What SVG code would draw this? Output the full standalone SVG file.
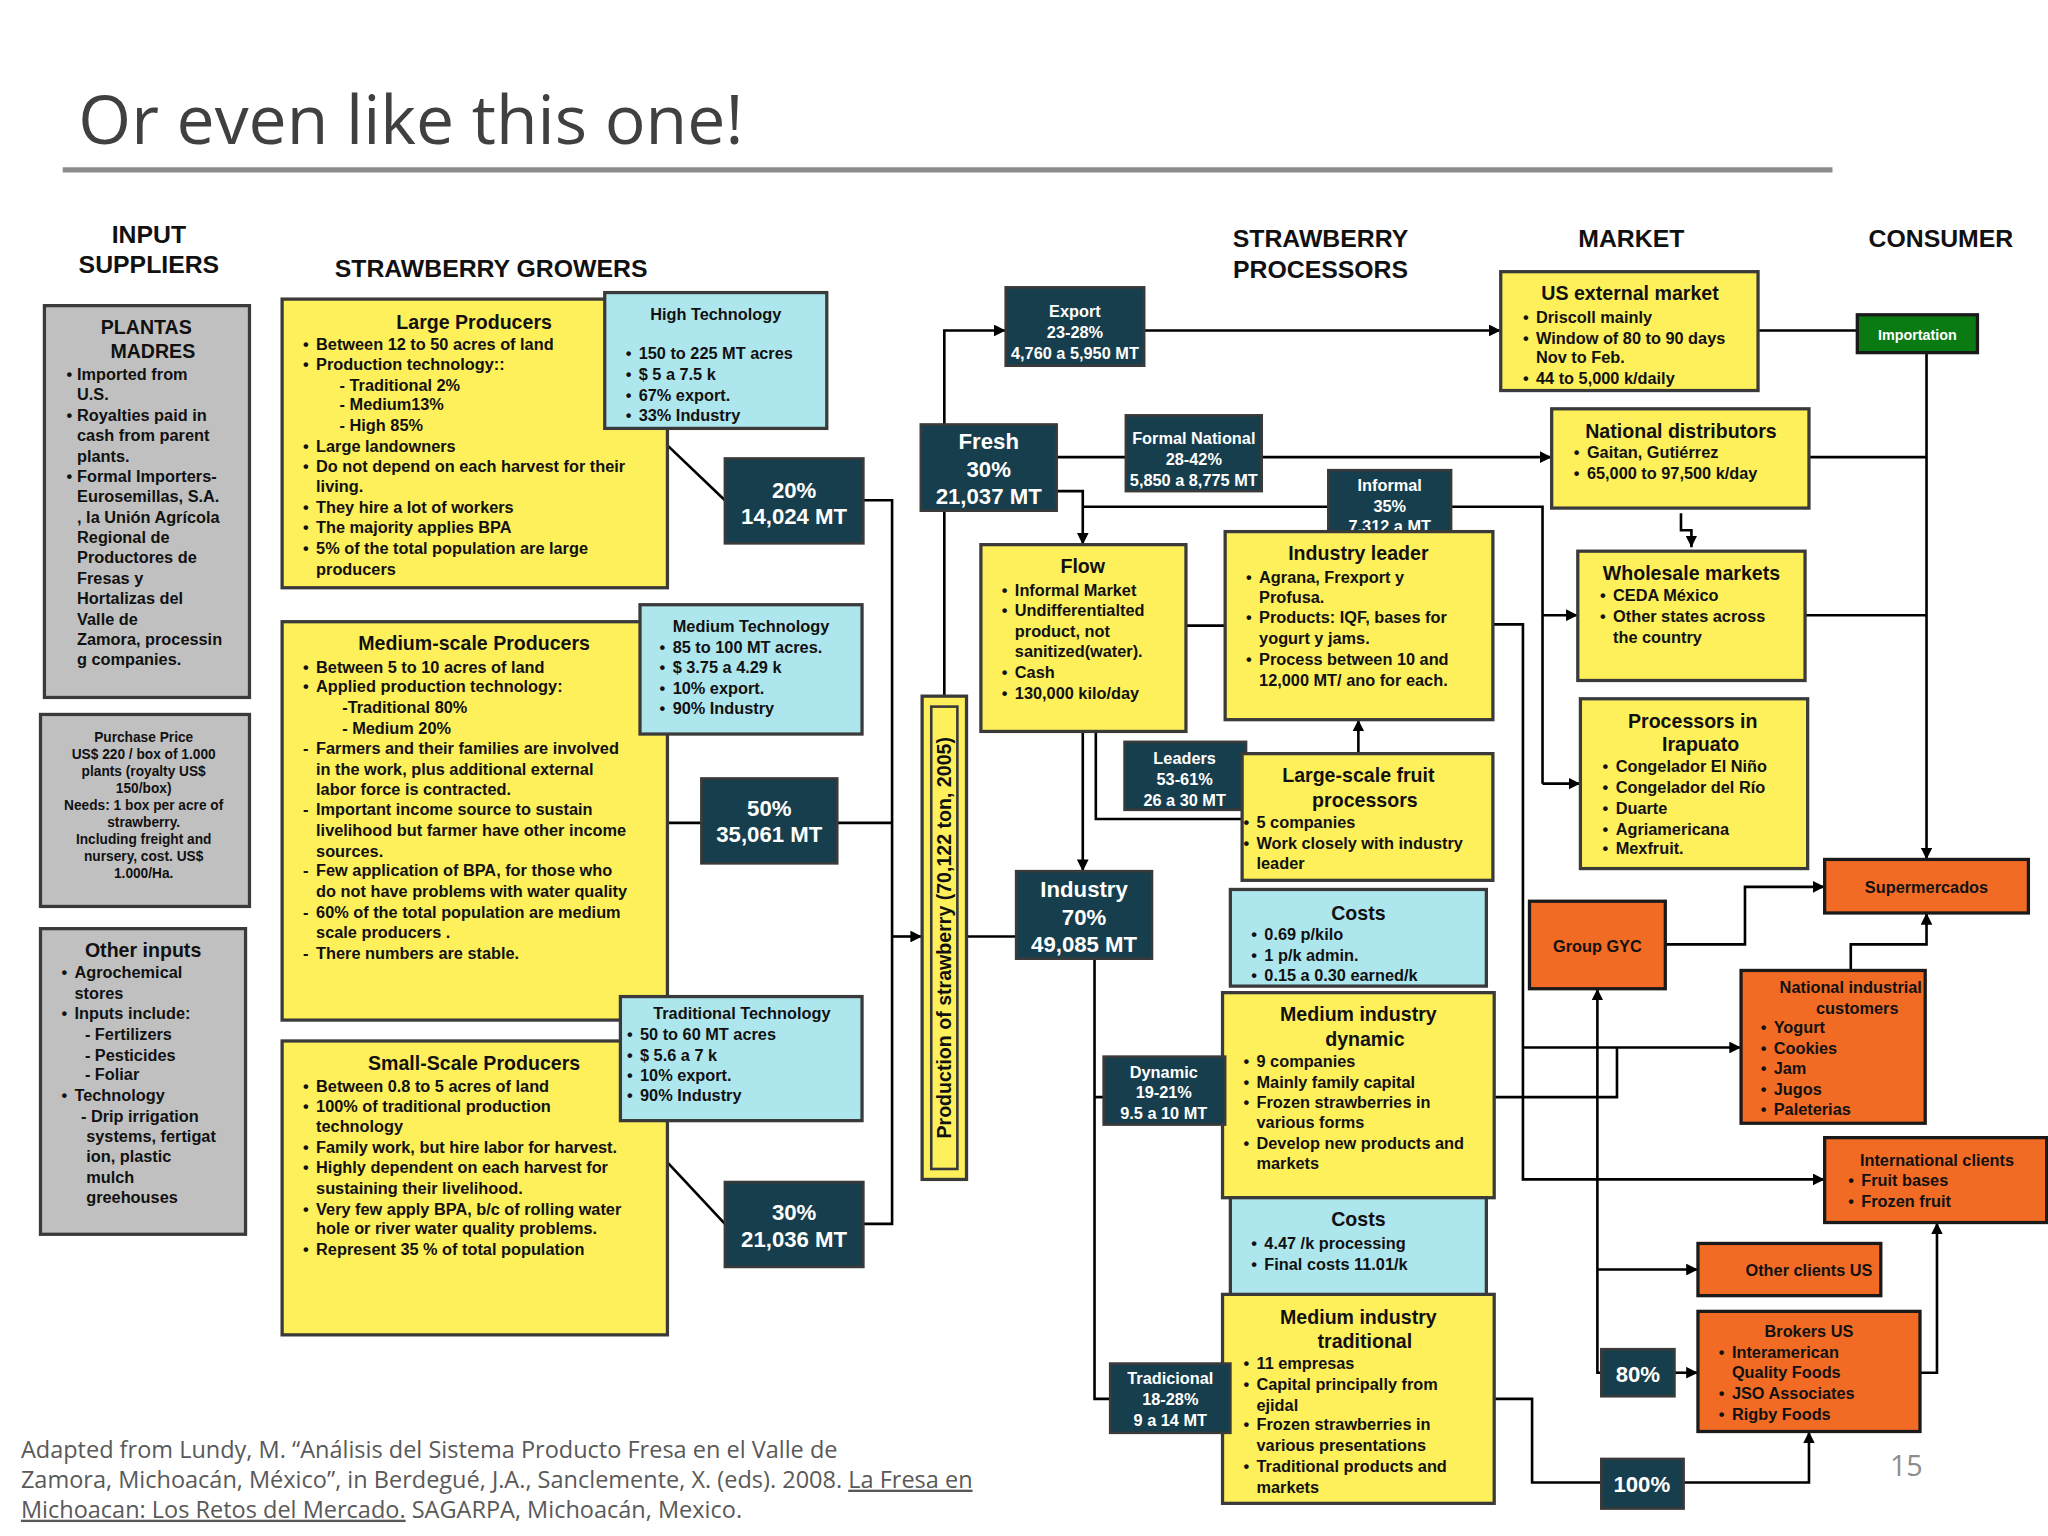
<svg xmlns="http://www.w3.org/2000/svg" width="2048" height="1536" viewBox="0 0 2048 1536">
<defs>
<marker id="ar" viewBox="0 0 10 10" refX="10" refY="5" markerWidth="9" markerHeight="9" markerUnits="userSpaceOnUse" orient="auto"><path d="M0,0 L10,5 L0,10 z" fill="#000"/></marker>
<style>
text{font-family:"Liberation Sans",Arial,sans-serif;font-weight:bold;fill:#111}
.b{font-size:12.5px}
.s{font-size:10.5px}
.t{font-size:15px}
.c{text-anchor:middle}
.w{fill:#fff}
.h{font-size:19px}
.big{font-size:17px}
.y{fill:#fef05a;stroke:#3a3a3a;stroke-width:2.5}
.cy{fill:#aee6ee;stroke:#3a3a3a;stroke-width:2.5}
.d{fill:#173e4c;stroke:#3a3a3a;stroke-width:2}
.g{fill:#c0c0c0;stroke:#3a3a3a;stroke-width:2.5}
.o{fill:#f26b25;stroke:#1a1a1a;stroke-width:2.5}
.gr{fill:#0a7a12;stroke:#1a1a1a;stroke-width:2.5}
#conn path{fill:none;stroke:#000;stroke-width:2}
.a{marker-end:url(#ar)}
.f{font-family:"Open Sans","Liberation Sans",sans-serif;font-weight:normal;fill:#595959}
</style>
</defs>
<rect width="2048" height="1536" fill="#fff"/>
<g transform="scale(1.30612)">
<text x="60" y="110" class="f" style="font-size:52px;fill:#404040">Or even like this one!</text>
<line x1="48" y1="130" x2="1403" y2="130" stroke="#8c8c8c" stroke-width="4"/>

<g id="headers">
<text class="h c" x="114" y="186">INPUT</text><text class="h c" x="114" y="209">SUPPLIERS</text>
<text class="h c" x="376" y="212">STRAWBERRY GROWERS</text>
<text class="h c" x="1011" y="189">STRAWBERRY</text><text class="h c" x="1011" y="213">PROCESSORS</text>
<text class="h c" x="1249" y="189">MARKET</text>
<text class="h c" x="1486" y="189">CONSUMER</text>
</g>

<g id="conn">
<path d="M511,341 L555,383"/>
<path d="M511,630 L537,630"/>
<path d="M511,890 L555,937"/>
<path d="M661,383 H683 V937 H661"/>
<path d="M641,630 H683"/>
<path class="a" d="M683,717 H706"/>
<path class="a" d="M723,533 V253 H770"/>
<path class="a" d="M876,253 H1149"/>
<path class="a" d="M809,350 H1188"/>
<path class="a" d="M809,376 H829 V417"/>
<path d="M829,388 H1181 V600"/>
<path class="a" d="M1181,471 H1208"/>
<path class="a" d="M1181,600 H1210"/>
<path d="M908,479 H938"/>
<path class="a" d="M829,560 V667"/>
<path d="M839,560 V627 H951"/>
<path d="M740,717 H778"/>
<path d="M838,734 V1071 H850 M838,840 H845"/>
<path class="a" d="M1040,577 V551"/>
<path class="a" d="M1143,478 H1166 V903 H1397"/>
<path class="a" d="M1166,802 H1333"/>
<path d="M1144,840 H1238 V802"/>
<path class="a" d="M1226,1051 H1223 V757"/>
<path class="a" d="M1223,972 H1300"/>
<path class="a" d="M1282,1051 H1300"/>
<path d="M1144,1071 H1173 V1135 H1226"/>
<path class="a" d="M1289,1135 H1385 V1096"/>
<path class="a" d="M1470,1051 H1483 V936"/>
<path class="a" d="M1275,723 H1336 V679 H1397"/>
<path class="a" d="M1417,743 V723 H1475 V699"/>
<path d="M1346,253 H1422"/>
<path class="a" d="M1475,270 V658"/>
<path d="M1385,350 H1475 M1382,471 H1475"/>
<path class="a" d="M1287,393 V406 H1295 V419"/>
</g>

<g id="plantas"><rect class="g" x="34" y="234" width="157" height="300"/>
<text class="t c" x="112" y="256">PLANTAS</text><text class="t c" x="117" y="274">MADRES</text>
<text class="b" x="51" y="291">•</text><text class="b" x="51" y="322">•</text><text class="b" x="51" y="369">•</text>
<text class="b"><tspan x="59" y="291">Imported from</tspan><tspan x="59" y="306.6">U.S.</tspan><tspan x="59" y="322.2">Royalties paid in</tspan><tspan x="59" y="337.8">cash from parent</tspan><tspan x="59" y="353.4">plants.</tspan><tspan x="59" y="369">Formal Importers-</tspan><tspan x="59" y="384.6">Eurosemillas, S.A.</tspan><tspan x="59" y="400.2">, la Unión Agrícola</tspan><tspan x="59" y="415.8">Regional de</tspan><tspan x="59" y="431.4">Productores de</tspan><tspan x="59" y="447">Fresas y</tspan><tspan x="59" y="462.6">Hortalizas del</tspan><tspan x="59" y="478.2">Valle de</tspan><tspan x="59" y="493.8">Zamora, processin</tspan><tspan x="59" y="509.4">g companies.</tspan></text></g>

<g id="purchase"><rect class="g" x="31" y="547" width="160" height="147"/>
<text class="s c"><tspan x="110" y="568">Purchase Price</tspan><tspan x="110" y="581">US$ 220 / box of 1.000</tspan><tspan x="110" y="594">plants (royalty US$</tspan><tspan x="110" y="607">150/box)</tspan><tspan x="110" y="620">Needs: 1 box per acre of</tspan><tspan x="110" y="633">strawberry.</tspan><tspan x="110" y="646">Including freight and</tspan><tspan x="110" y="659">nursery, cost. US$</tspan><tspan x="110" y="672">1.000/Ha.</tspan></text></g>

<g id="other"><rect class="g" x="31" y="711" width="157" height="234"/>
<text class="t" x="65" y="733">Other inputs</text>
<text class="b"><tspan x="47" y="749">•</tspan><tspan x="47" y="780">•</tspan><tspan x="47" y="843">•</tspan></text>
<text class="b"><tspan x="57" y="749">Agrochemical</tspan><tspan x="57" y="765">stores</tspan><tspan x="57" y="780">Inputs include:</tspan><tspan x="65" y="796">- Fertilizers</tspan><tspan x="65" y="812">- Pesticides</tspan><tspan x="65" y="827">- Foliar</tspan><tspan x="57" y="843">Technology</tspan><tspan x="62" y="859">- Drip irrigation</tspan><tspan x="66" y="874">systems, fertigat</tspan><tspan x="66" y="890">ion, plastic</tspan><tspan x="66" y="906">mulch</tspan><tspan x="66" y="921">greehouses</tspan></text></g>

<g id="large"><rect class="y" x="216" y="229" width="295" height="221"/>
<text class="t c" x="363" y="252">Large Producers</text>
<text class="b"><tspan x="232" y="268">•</tspan><tspan x="232" y="283">•</tspan><tspan x="232" y="346">•</tspan><tspan x="232" y="361">•</tspan><tspan x="232" y="393">•</tspan><tspan x="232" y="408">•</tspan><tspan x="232" y="424">•</tspan></text>
<text class="b"><tspan x="242" y="268">Between 12 to 50 acres of land</tspan><tspan x="242" y="283">Production technology::</tspan><tspan x="260" y="299">- Traditional 2%</tspan><tspan x="260" y="314">- Medium13%</tspan><tspan x="260" y="330">- High 85%</tspan><tspan x="242" y="346">Large landowners</tspan><tspan x="242" y="361">Do not depend on each harvest for their</tspan><tspan x="242" y="377">living.</tspan><tspan x="242" y="393">They hire a lot of workers</tspan><tspan x="242" y="408">The majority applies BPA</tspan><tspan x="242" y="424">5% of the total population are large</tspan><tspan x="242" y="440">producers</tspan></text></g>

<g id="medium"><rect class="y" x="216" y="476" width="295" height="305"/>
<text class="t c" x="363" y="498">Medium-scale Producers</text>
<text class="b"><tspan x="232" y="515">•</tspan><tspan x="232" y="530">•</tspan><tspan x="232" y="577">-</tspan><tspan x="232" y="624">-</tspan><tspan x="232" y="671">-</tspan><tspan x="232" y="703">-</tspan><tspan x="232" y="734">-</tspan></text>
<text class="b"><tspan x="242" y="515">Between 5 to 10 acres of land</tspan><tspan x="242" y="530">Applied production technology:</tspan><tspan x="262" y="546">-Traditional 80%</tspan><tspan x="262" y="562">- Medium 20%</tspan><tspan x="242" y="577">Farmers and their families are involved</tspan><tspan x="242" y="593">in the work, plus additional external</tspan><tspan x="242" y="609">labor force is contracted.</tspan><tspan x="242" y="624">Important income source to sustain</tspan><tspan x="242" y="640">livelihood but farmer have other income</tspan><tspan x="242" y="656">sources.</tspan><tspan x="242" y="671">Few application of BPA, for those who</tspan><tspan x="242" y="687">do not have problems with water quality</tspan><tspan x="242" y="703">60% of the total population are medium</tspan><tspan x="242" y="718">scale producers .</tspan><tspan x="242" y="734">There numbers are stable.</tspan></text></g>

<g id="small"><rect class="y" x="216" y="797" width="295" height="225"/>
<text class="t c" x="363" y="819">Small-Scale Producers</text>
<text class="b"><tspan x="232" y="836">•</tspan><tspan x="232" y="851">•</tspan><tspan x="232" y="883">•</tspan><tspan x="232" y="898">•</tspan><tspan x="232" y="930">•</tspan><tspan x="232" y="961">•</tspan></text>
<text class="b"><tspan x="242" y="836">Between 0.8 to 5 acres of land</tspan><tspan x="242" y="851">100% of traditional production</tspan><tspan x="242" y="867">technology</tspan><tspan x="242" y="883">Family work, but hire labor for harvest.</tspan><tspan x="242" y="898">Highly dependent on each harvest for</tspan><tspan x="242" y="914">sustaining their livelihood.</tspan><tspan x="242" y="930">Very few apply BPA, b/c of rolling water</tspan><tspan x="242" y="945">hole or river water quality problems.</tspan><tspan x="242" y="961">Represent 35 % of total population</tspan></text></g>

<g id="hightech"><rect class="cy" x="463" y="224" width="170" height="104"/>
<text class="b c" x="548" y="245">High Technology</text>
<text class="b"><tspan x="479" y="275">•</tspan><tspan x="479" y="291">•</tspan><tspan x="479" y="307">•</tspan><tspan x="479" y="322">•</tspan></text>
<text class="b"><tspan x="489" y="275">150 to 225 MT acres</tspan><tspan x="489" y="291">$ 5 a 7.5 k</tspan><tspan x="489" y="307">67% export.</tspan><tspan x="489" y="322">33% Industry</tspan></text></g>

<g id="medtech"><rect class="cy" x="490" y="463" width="170" height="99"/>
<text class="b c" x="575" y="484">Medium Technology</text>
<text class="b"><tspan x="505" y="500">•</tspan><tspan x="505" y="515">•</tspan><tspan x="505" y="531">•</tspan><tspan x="505" y="547">•</tspan></text>
<text class="b"><tspan x="515" y="500">85 to 100 MT acres.</tspan><tspan x="515" y="515">$ 3.75 a 4.29 k</tspan><tspan x="515" y="531">10% export.</tspan><tspan x="515" y="547">90% Industry</tspan></text></g>

<g id="tradtech"><rect class="cy" x="475" y="763" width="185" height="95"/>
<text class="b c" x="568" y="780">Traditional Technology</text>
<text class="b"><tspan x="480" y="796">•</tspan><tspan x="480" y="812">•</tspan><tspan x="480" y="828">•</tspan><tspan x="480" y="843">•</tspan></text>
<text class="b"><tspan x="490" y="796">50 to 60 MT acres</tspan><tspan x="490" y="812">$ 5.6 a 7 k</tspan><tspan x="490" y="828">10% export.</tspan><tspan x="490" y="843">90% Industry</tspan></text></g>

<g id="p20"><rect class="d" x="555" y="351" width="106" height="65"/><text class="big c w"><tspan x="608" y="381">20%</tspan><tspan x="608" y="401">14,024 MT</tspan></text></g>
<g id="p50"><rect class="d" x="537" y="596" width="104" height="65"/><text class="big c w"><tspan x="589" y="625">50%</tspan><tspan x="589" y="645">35,061 MT</tspan></text></g>
<g id="p30"><rect class="d" x="555" y="905" width="106" height="65"/><text class="big c w"><tspan x="608" y="934">30%</tspan><tspan x="608" y="955">21,036 MT</tspan></text></g>

<g id="bar"><rect class="y" x="706" y="533" width="34" height="370"/><rect x="713" y="541" width="20" height="354" fill="none" stroke="#3a3a3a" stroke-width="2"/>
<text class="t c" transform="translate(728,718) rotate(-90)" x="0" y="0">Production of strawberry  (70,122 ton, 2005)</text></g>

<g id="export"><rect class="d" x="770" y="220" width="106" height="60"/><text class="b c w"><tspan x="823" y="243">Export</tspan><tspan x="823" y="259">23-28%</tspan><tspan x="823" y="275">4,760 a 5,950 MT</tspan></text></g>
<g id="fresh"><rect class="d" x="705" y="325" width="104" height="66"/><text class="big c w"><tspan x="757" y="344">Fresh</tspan><tspan x="757" y="365">30%</tspan><tspan x="757" y="386">21,037 MT</tspan></text></g>
<g id="formal"><rect class="d" x="862" y="318" width="104" height="58"/><text class="b c w"><tspan x="914" y="340">Formal National</tspan><tspan x="914" y="356">28-42%</tspan><tspan x="914" y="372">5,850 a 8,775 MT</tspan></text></g>
<g id="informal"><rect class="d" x="1017" y="360" width="94" height="50"/><text class="b c w"><tspan x="1064" y="376">Informal</tspan><tspan x="1064" y="392">35%</tspan><tspan x="1064" y="407">7,312 a MT</tspan></text></g>

<g id="flow"><rect class="y" x="751" y="417" width="157" height="143"/>
<text class="t c" x="829" y="439">Flow</text>
<text class="b"><tspan x="767" y="456">•</tspan><tspan x="767" y="472">•</tspan><tspan x="767" y="519">•</tspan><tspan x="767" y="535">•</tspan></text>
<text class="b"><tspan x="777" y="456">Informal Market</tspan><tspan x="777" y="472">Undifferentialted</tspan><tspan x="777" y="488">product, not</tspan><tspan x="777" y="503">sanitized(water).</tspan><tspan x="777" y="519">Cash</tspan><tspan x="777" y="535">130,000 kilo/day</tspan></text></g>

<g id="leader"><rect class="y" x="938" y="407" width="205" height="144"/>
<text class="t c" x="1040" y="429">Industry leader</text>
<text class="b"><tspan x="954" y="446">•</tspan><tspan x="954" y="477">•</tspan><tspan x="954" y="509">•</tspan></text>
<text class="b"><tspan x="964" y="446">Agrana, Frexport y</tspan><tspan x="964" y="462">Profusa.</tspan><tspan x="964" y="477">Products: IQF, bases for</tspan><tspan x="964" y="493">yogurt y jams.</tspan><tspan x="964" y="509">Process between 10 and</tspan><tspan x="964" y="525">12,000 MT/ ano for each.</tspan></text></g>

<g id="leaders"><rect class="d" x="861" y="568" width="93" height="52"/><text class="b c w"><tspan x="907" y="585">Leaders</tspan><tspan x="907" y="601">53-61%</tspan><tspan x="907" y="617">26 a 30 MT</tspan></text></g>

<g id="largescale"><rect class="y" x="951" y="577" width="192" height="97"/>
<text class="t c"><tspan x="1040" y="599">Large-scale fruit</tspan><tspan x="1045" y="618">processors</tspan></text>
<text class="b"><tspan x="952" y="634">•</tspan><tspan x="952" y="650">•</tspan></text>
<text class="b"><tspan x="962" y="634">5 companies</tspan><tspan x="962" y="650">Work closely with industry</tspan><tspan x="962" y="665">leader</tspan></text></g>

<g id="industry"><rect class="d" x="778" y="667" width="104" height="67"/><text class="big c w"><tspan x="830" y="687">Industry</tspan><tspan x="830" y="708">70%</tspan><tspan x="830" y="729">49,085 MT</tspan></text></g>

<g id="costs1"><rect class="cy" x="942" y="681" width="196" height="74"/>
<text class="t c" x="1040" y="704">Costs</text>
<text class="b"><tspan x="958" y="720">•</tspan><tspan x="958" y="736">•</tspan><tspan x="958" y="751">•</tspan></text>
<text class="b"><tspan x="968" y="720">0.69 p/kilo</tspan><tspan x="968" y="736">1 p/k admin.</tspan><tspan x="968" y="751">0.15 a 0.30 earned/k</tspan></text></g>

<g id="dyn"><rect class="y" x="936" y="760" width="208" height="157"/>
<text class="t c"><tspan x="1040" y="782">Medium industry</tspan><tspan x="1045" y="801">dynamic</tspan></text>
<text class="b"><tspan x="952" y="817">•</tspan><tspan x="952" y="833">•</tspan><tspan x="952" y="848">•</tspan><tspan x="952" y="880">•</tspan></text>
<text class="b"><tspan x="962" y="817">9 companies</tspan><tspan x="962" y="833">Mainly family capital</tspan><tspan x="962" y="848">Frozen strawberries in</tspan><tspan x="962" y="864">various forms</tspan><tspan x="962" y="880">Develop new products and</tspan><tspan x="962" y="895">markets</tspan></text></g>

<g id="dynamic"><rect class="d" x="845" y="809" width="93" height="52"/><text class="b c w"><tspan x="891" y="825">Dynamic</tspan><tspan x="891" y="841">19-21%</tspan><tspan x="891" y="857">9.5 a 10 MT</tspan></text></g>

<g id="costs2"><rect class="cy" x="942" y="917" width="196" height="77"/>
<text class="t c" x="1040" y="939">Costs</text>
<text class="b"><tspan x="958" y="956">•</tspan><tspan x="958" y="972">•</tspan></text>
<text class="b"><tspan x="968" y="956">4.47 /k processing</tspan><tspan x="968" y="972">Final costs 11.01/k</tspan></text></g>

<g id="trad"><rect class="y" x="936" y="991" width="208" height="160"/>
<text class="t c"><tspan x="1040" y="1014">Medium industry</tspan><tspan x="1045" y="1032">traditional</tspan></text>
<text class="b"><tspan x="952" y="1048">•</tspan><tspan x="952" y="1064">•</tspan><tspan x="952" y="1095">•</tspan><tspan x="952" y="1127">•</tspan></text>
<text class="b"><tspan x="962" y="1048">11 empresas</tspan><tspan x="962" y="1064">Capital principally from</tspan><tspan x="962" y="1080">ejidal</tspan><tspan x="962" y="1095">Frozen strawberries in</tspan><tspan x="962" y="1111">various presentations</tspan><tspan x="962" y="1127">Traditional products and</tspan><tspan x="962" y="1143">markets</tspan></text></g>

<g id="tradicional"><rect class="d" x="850" y="1044" width="92" height="53"/><text class="b c w"><tspan x="896" y="1060">Tradicional</tspan><tspan x="896" y="1076">18-28%</tspan><tspan x="896" y="1092">9 a 14 MT</tspan></text></g>

<g id="usext"><rect class="y" x="1149" y="208" width="197" height="91"/>
<text class="t c" x="1248" y="230">US external market</text>
<text class="b"><tspan x="1166" y="247">•</tspan><tspan x="1166" y="263">•</tspan><tspan x="1166" y="294">•</tspan></text>
<text class="b"><tspan x="1176" y="247">Driscoll mainly</tspan><tspan x="1176" y="263">Window of 80 to 90 days</tspan><tspan x="1176" y="278">Nov to Feb.</tspan><tspan x="1176" y="294">44 to 5,000 k/daily</tspan></text></g>

<g id="natdist"><rect class="y" x="1188" y="313" width="197" height="76"/>
<text class="t c" x="1287" y="335">National distributors</text>
<text class="b"><tspan x="1205" y="351">•</tspan><tspan x="1205" y="367">•</tspan></text>
<text class="b"><tspan x="1215" y="351">Gaitan, Gutiérrez</tspan><tspan x="1215" y="367">65,000 to 97,500 k/day</tspan></text></g>

<g id="wholesale"><rect class="y" x="1208" y="422" width="174" height="99"/>
<text class="t c" x="1295" y="444">Wholesale markets</text>
<text class="b"><tspan x="1225" y="460">•</tspan><tspan x="1225" y="476">•</tspan></text>
<text class="b"><tspan x="1235" y="460">CEDA México</tspan><tspan x="1235" y="476">Other states across</tspan><tspan x="1235" y="492">the country</tspan></text></g>

<g id="irapuato"><rect class="y" x="1210" y="535" width="174" height="130"/>
<text class="t c"><tspan x="1296" y="557">Processors in</tspan><tspan x="1302" y="575">Irapuato</tspan></text>
<text class="b"><tspan x="1227" y="591">•</tspan><tspan x="1227" y="607">•</tspan><tspan x="1227" y="623">•</tspan><tspan x="1227" y="639">•</tspan><tspan x="1227" y="654">•</tspan></text>
<text class="b"><tspan x="1237" y="591">Congelador El Niño</tspan><tspan x="1237" y="607">Congelador del Río</tspan><tspan x="1237" y="623">Duarte</tspan><tspan x="1237" y="639">Agriamericana</tspan><tspan x="1237" y="654">Mexfruit.</tspan></text></g>

<g id="importation"><rect class="gr" x="1422" y="241" width="92" height="29"/><text class="c w" style="font-size:11px" x="1468" y="260">Importation</text></g>
<g id="super"><rect class="o" x="1397" y="658" width="156" height="41"/><text class="b c" x="1475" y="684">Supermercados</text></g>
<g id="gyc"><rect class="o" x="1171" y="690" width="104" height="67"/><text class="b c" x="1223" y="729">Group GYC</text></g>

<g id="nic"><rect class="o" x="1333" y="743" width="141" height="117"/>
<text class="b c"><tspan x="1417" y="760">National industrial</tspan><tspan x="1422" y="776">customers</tspan></text>
<text class="b"><tspan x="1348" y="791">•</tspan><tspan x="1348" y="807">•</tspan><tspan x="1348" y="822">•</tspan><tspan x="1348" y="838">•</tspan><tspan x="1348" y="854">•</tspan></text>
<text class="b"><tspan x="1358" y="791">Yogurt</tspan><tspan x="1358" y="807">Cookies</tspan><tspan x="1358" y="822">Jam</tspan><tspan x="1358" y="838">Jugos</tspan><tspan x="1358" y="854">Paleterias</tspan></text></g>

<g id="intl"><rect class="o" x="1397" y="871" width="170" height="65"/>
<text class="b c" x="1483" y="893">International clients</text>
<text class="b"><tspan x="1415" y="908">•</tspan><tspan x="1415" y="924">•</tspan></text>
<text class="b"><tspan x="1425" y="908">Fruit bases</tspan><tspan x="1425" y="924">Frozen fruit</tspan></text></g>

<g id="otherus"><rect class="o" x="1300" y="952" width="140" height="40"/><text class="b c" x="1385" y="977">Other clients US</text></g>

<g id="brokers"><rect class="o" x="1300" y="1004" width="170" height="92"/>
<text class="b c" x="1385" y="1024">Brokers US</text>
<text class="b"><tspan x="1316" y="1040">•</tspan><tspan x="1316" y="1071">•</tspan><tspan x="1316" y="1087">•</tspan></text>
<text class="b"><tspan x="1326" y="1040">Interamerican</tspan><tspan x="1326" y="1055">Quality Foods</tspan><tspan x="1326" y="1071">JSO Associates</tspan><tspan x="1326" y="1087">Rigby Foods</tspan></text></g>

<g id="p80"><rect class="d" x="1226" y="1033" width="56" height="36"/><text class="big c w" x="1254" y="1058">80%</text></g>
<g id="p100"><rect class="d" x="1226" y="1117" width="63" height="38"/><text class="big c w" x="1257" y="1142">100%</text></g>

<g id="footer">
<text class="f" style="font-size:18px"><tspan x="16" y="1116">Adapted from Lundy, M.  “Análisis del Sistema Producto Fresa en el Valle de</tspan><tspan x="16" y="1139">Zamora, Michoacán, México”, in Berdegué, J.A., Sanclemente, X. (eds). 2008.  <tspan text-decoration="underline">La Fresa en</tspan></tspan><tspan x="16" y="1162"><tspan text-decoration="underline">Michoacan: Los Retos del Mercado.</tspan> SAGARPA, Michoacán, Mexico.</tspan></text>
<text class="f" style="font-size:22px;fill:#8c8c8c" x="1447" y="1130">15</text>
</g>
</g>
</svg>
